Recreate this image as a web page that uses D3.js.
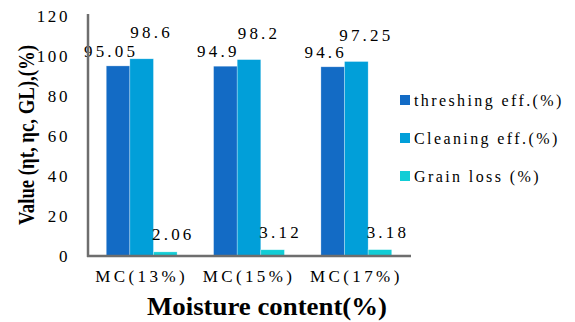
<!DOCTYPE html>
<html>
<head>
<meta charset="utf-8">
<script src="https://cdn.jsdelivr.net/npm/d3@7"></script>
<style>
  html, body { margin: 0; padding: 0; background: #fff; }
  svg { display: block; }
  svg text { font-family: "Liberation Serif", serif !important; fill: #000; }
</style>
</head>
<body>
<svg id="chart" width="575" height="322"></svg>
<script>
// Moisture-content levels tested
const categories = ["MC(13%)", "MC(15%)", "MC(17%)"];
// Series names and their values per moisture level
const seriesNames = ["threshing eff.(%)", "Cleaning eff.(%)", "Grain loss (%)"];
const threshingEff = [95.05, 94.9, 94.6];
const cleaningEff = [98.6, 98.2, 97.25];
const grainLoss = [2.06, 3.12, 3.18];
const valueLabels = [
  ["95.05", "94.9", "94.6"],
  ["98.6", "98.2", "97.25"],
  ["2.06", "3.12", "3.18"]
];
const yTicks = [0, 20, 40, 60, 80, 100, 120];

const seriesValues = [threshingEff, cleaningEff, grainLoss];
const colors = ["#136bc5", "#019fd9", "#12cdd6"];

const svg = d3.select("#chart");
const plot = { left: 88, right: 410, top: 16, bottom: 256 };

const x0 = d3.scaleBand().domain(categories).range([plot.left, plot.right]).paddingInner(0.34).paddingOuter(0.17);
const x1 = d3.scaleBand().domain(d3.range(seriesNames.length)).range([0, x0.bandwidth()]);
const y = d3.scaleLinear().domain([0, 120]).range([plot.bottom, plot.top]);

// Bars
const groups = svg.append("g").selectAll("g").data(categories).join("g")
  .attr("transform", d => `translate(${x0(d)},0)`);
groups.selectAll("rect")
  .data((c, ci) => seriesValues.map((vals, si) => ({ si, v: vals[ci], ci })))
  .join("rect")
  .attr("x", d => x1(d.si))
  .attr("width", x1.bandwidth())
  .attr("y", d => y(d.v))
  .attr("height", d => y(0) - y(d.v))
  .attr("fill", d => colors[d.si])
  .attr("stroke", "rgba(255,255,255,0.5)")
  .attr("stroke-width", 0.6);

// Value labels
const labelDx = [-7, 10, 8];
const labelDy = [-9, -21, -12];
groups.selectAll("text.val")
  .data((c, ci) => seriesValues.map((vals, si) => ({ si, v: vals[ci], ci })))
  .join("text")
  .attr("class", "val")
  .attr("x", d => x1(d.si) + x1.bandwidth() / 2 + labelDx[d.si])
  .attr("y", d => y(d.v) + labelDy[d.si])
  .attr("text-anchor", "middle")
  .style("font-size", "17px")
  .style("letter-spacing", "3.2px")
  .text(d => valueLabels[d.si][d.ci]);

// Y axis
const yAxis = d3.axisLeft(y).tickValues(yTicks).tickSize(0).tickPadding(18);
const ya = svg.append("g").attr("transform", `translate(${plot.left},0)`).call(yAxis);
ya.select(".domain").remove();
ya.selectAll("text")
  .style("font-size", "17px")
  .style("letter-spacing", "2.6px");

// X axis
const xAxis = d3.axisBottom(x0).tickSize(0).tickPadding(14);
const xa = svg.append("g").attr("transform", `translate(0,${plot.bottom})`).call(xAxis);
xa.select(".domain").remove();
xa.selectAll("text")
  .style("font-size", "17px")
  .style("letter-spacing", "3.4px");

// Axis lines
svg.append("line")
  .attr("x1", plot.left).attr("x2", plot.left)
  .attr("y1", 14).attr("y2", plot.bottom + 1)
  .attr("stroke", "#6e6e6e").attr("stroke-width", 2.5);
svg.append("line")
  .attr("x1", plot.left - 1).attr("x2", plot.right + 1)
  .attr("y1", plot.bottom).attr("y2", plot.bottom)
  .attr("stroke", "#6e6e6e").attr("stroke-width", 2.5);

// Axis titles
svg.append("text")
  .attr("transform", `translate(34,135) rotate(-90)`)
  .attr("text-anchor", "middle")
  .attr("textLength", 180)
  .attr("lengthAdjust", "spacingAndGlyphs")
  .style("font-weight", "bold")
  .style("font-size", "23px")
  .text("Value (ηt, ηc, GL),(%)");
svg.append("text")
  .attr("x", 267).attr("y", 315)
  .attr("text-anchor", "middle")
  .attr("textLength", 240)
  .attr("lengthAdjust", "spacingAndGlyphs")
  .style("font-weight", "bold")
  .style("font-size", "25px")
  .text("Moisture content(%)");

// Legend
const legend = svg.append("g").selectAll("g").data(seriesNames).join("g")
  .attr("transform", (d, i) => `translate(400,${100 + i * 38})`);
legend.append("rect")
  .attr("x", 0).attr("y", -5).attr("width", 10).attr("height", 10)
  .attr("fill", (d, i) => colors[i]);
legend.append("text")
  .attr("x", 14).attr("y", 5.5)
  .style("font-size", "16px")
  .style("letter-spacing", "2.4px")
  .text(d => d);
</script>
</body>
</html>
